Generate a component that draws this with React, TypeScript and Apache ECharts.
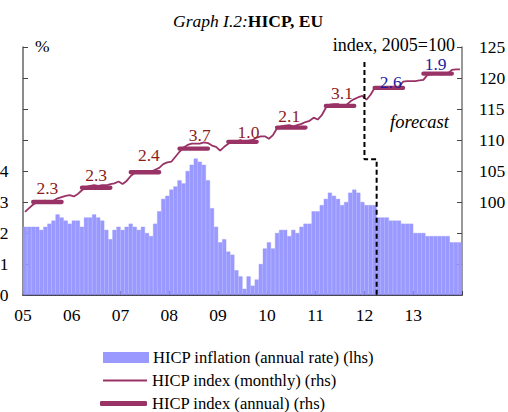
import React, { useEffect, useRef } from "react";
import * as echarts from "echarts";

const FONT = "'Liberation Serif', 'Times New Roman', serif";

// Year tick labels
const yearLabels = ["05", "06", "07", "08", "09", "10", "11", "12", "13"];

// HICP inflation, annual rate (%), monthly (2012 Q2 onwards = forecast)
const infl05 = [2.2, 2.2, 2.2, 2.2, 2.1, 2.2, 2.3, 2.4, 2.6, 2.5, 2.4, 2.3];
const infl06 = [2.4, 2.4, 2.2, 2.5, 2.5, 2.6, 2.5, 2.4, 2.1, 1.8, 2.1, 2.2];
const infl07 = [2.1, 2.2, 2.3, 2.2, 2.1, 2.2, 2.0, 1.9, 2.3, 2.7, 3.1, 3.2];
const infl08 = [3.4, 3.5, 3.7, 3.6, 4.0, 4.2, 4.4, 4.3, 4.2, 3.7, 2.8, 2.2];
const infl09 = [1.7, 1.8, 1.4, 1.3, 0.8, 0.6, 0.2, 0.6, 0.3, 0.5, 1.0, 1.5];
const infl10 = [1.7, 1.5, 2.0, 2.1, 2.1, 1.9, 2.1, 2.0, 2.2, 2.3, 2.3, 2.7];
const infl11 = [2.7, 2.9, 3.1, 3.3, 3.2, 3.1, 2.9, 3.0, 3.3, 3.4, 3.3, 3.0];
const infl12 = [2.9, 2.9, 2.9, 2.5, 2.5, 2.5, 2.4, 2.4, 2.4, 2.3, 2.3, 2.3];
const infl13 = [2.0, 2.0, 2.0, 1.9, 1.9, 1.9, 1.9, 1.9, 1.9, 1.7, 1.7, 1.7];

// HICP index (monthly), 2005 = 100
const idx05 = [98.4, 99.0, 99.6, 100.0, 100.1, 100.2, 100.0, 100.2, 100.6, 100.8, 101.0, 101.1];
const idx06 = [100.9, 101.3, 101.9, 102.4, 102.6, 102.7, 102.6, 102.7, 102.7, 102.9, 103.0, 103.3];
const idx07 = [102.9, 103.4, 104.2, 104.7, 104.9, 105.0, 104.8, 104.9, 105.2, 105.5, 106.1, 106.4];
const idx08 = [106.5, 107.3, 108.1, 108.8, 109.2, 109.4, 109.4, 109.4, 109.6, 109.5, 109.1, 108.9];
const idx09 = [108.3, 108.9, 109.4, 109.7, 109.8, 110.0, 109.6, 109.9, 110.0, 110.4, 110.6, 110.6];
const idx10 = [110.2, 110.8, 111.9, 112.2, 112.3, 112.4, 112.2, 112.4, 112.6, 112.9, 113.1, 113.6];
const idx11 = [113.3, 114.0, 115.2, 115.7, 115.8, 115.8, 115.4, 115.6, 116.2, 116.6, 116.9, 117.1];
const idx12 = [116.5, 117.3, 118.4, 118.4, 118.5, 118.4, 118.3, 118.4, 118.6, 119.4, 119.5, 119.5];
const idx13 = [119.5, 119.6, 119.7, 120.5, 120.6, 120.7, 120.6, 120.6, 120.7, 121.3, 121.4, 121.4];

// HICP index (annual averages) and annual rates shown above them
const annualIndex = [100.0, 102.3, 104.8, 108.6, 109.7, 112.0, 115.5, 118.4, 120.7];
const annualRates = ["2.3", "2.3", "2.4", "3.7", "1.0", "2.1", "3.1", "2.6", "1.9"];
const annualIsForecast = [false, false, false, false, false, false, false, true, true];

// Forecast break (dashed line), in years / index units
const breakX = [2012, 2012, 2012.25, 2012.25];
const breakY = [122.6, 106.9, 106.9, 85];

// Styling: small label nudges (px) to follow the original placement
const labelNudgeX = [0, 0, 4, 6, 6, -2, 2, 2, -2];
const labelNudgeY = [0, 1, -3, 0, 4, 2, 1.5, 8, 4];

const SERIES_BAR = "HICP inflation (annual rate) (lhs)";
const SERIES_M = "HICP index (monthly) (rhs)";
const SERIES_A = "HICP index (annual) (rhs)";

export default function App() {
  const ref = useRef<HTMLDivElement>(null);

  useEffect(() => {
    if (!ref.current) return;
    const chart = echarts.init(ref.current, null, { renderer: "svg" });

    const inflation = [
      ...infl05, ...infl06, ...infl07, ...infl08, ...infl09,
      ...infl10, ...infl11, ...infl12, ...infl13,
    ];
    const monthly = [
      ...idx05, ...idx06, ...idx07, ...idx08, ...idx09,
      ...idx10, ...idx11, ...idx12, ...idx13,
    ];
    const months = inflation.map((_, i) => `${yearLabels[Math.floor(i / 12)]}-${(i % 12) + 1}`);

    const annualData = months.map((_, i) => {
      const y = Math.floor(i / 12);
      const m = i % 12;
      if (m < 2 || m > 9) return null;
      if (m === 5) {
        return {
          value: annualIndex[y],
          label: {
            show: true,
            formatter: annualRates[y],
            position: "top",
            distance: 5,
            offset: [2 + labelNudgeX[y], labelNudgeY[y]],
            color: annualIsForecast[y] ? "#1c1c9c" : "#8e1b1b",
            fontFamily: FONT,
            fontSize: 17.5,
          },
        };
      }
      return annualIndex[y];
    });

    const textBase = { fontFamily: FONT, fontSize: 17.5, color: "#000", fontWeight: "normal" as const };
    const legendText = { ...textBase, fontSize: 16.6 };

    chart.setOption({
      animation: false,
      title: {
        text: "{i|Graph I.2:}{b|HICP, EU}",
        left: 168,
        top: 7,
        textStyle: {
          ...textBase,
          rich: {
            i: { ...textBase, fontStyle: "italic", fontWeight: "normal" },
            b: { ...textBase, fontWeight: "bold" },
          },
        },
      },
      grid: {
        left: 23,
        right: 46,
        top: 47,
        bottom: 117,
        containLabel: false,
        outerBoundsMode: "none",
      },
      legend: [
        {
          data: [{ name: SERIES_BAR, icon: "rect" }],
          left: 103,
          top: 349,
          padding: 0,
          itemWidth: 44,
          itemHeight: 9,
          textStyle: legendText,
          selectedMode: false,
        },
        {
          data: [{ name: SERIES_M, icon: "rect" }],
          left: 103,
          top: 372,
          padding: 0,
          itemWidth: 44,
          itemHeight: 2,
          textStyle: legendText,
          selectedMode: false,
        },
        {
          data: [{ name: SERIES_A, icon: "roundRect" }],
          left: 100,
          top: 395,
          padding: 0,
          itemWidth: 47,
          itemHeight: 5,
          textStyle: legendText,
          selectedMode: false,
        },
      ],
      xAxis: [
        {
          type: "category",
          data: months,
          show: false,
          boundaryGap: true,
        },
        {
          type: "value",
          min: 2005,
          max: 2014,
          interval: 1,
          position: "bottom",
          axisLine: { show: true, lineStyle: { color: "#000", width: 1.5 } },
          axisTick: { show: true, inside: true, length: 4, lineStyle: { color: "#333" } },
          axisLabel: {
            ...textBase,
            margin: 11,
            formatter: (v: number) => (v < 2014 ? yearLabels[v - 2005] : ""),
          },
          splitLine: { show: false },
        },
      ],
      yAxis: [
        {
          type: "value",
          min: 0,
          max: 8,
          interval: 1,
          position: "left",
          axisLine: { show: true, lineStyle: { color: "#666", width: 1.5 } },
          axisTick: { show: true, inside: true, length: 5, lineStyle: { color: "#444" } },
          axisLabel: {
            ...textBase,
            margin: 14.5,
            formatter: (v: number) => (v <= 4 ? String(v) : ""),
          },
          splitLine: { show: false },
        },
        {
          type: "value",
          min: 85,
          max: 125,
          interval: 5,
          position: "right",
          axisLine: { show: true, lineStyle: { color: "#777", width: 1.5 } },
          axisTick: { show: true, inside: true, length: 5, lineStyle: { color: "#444" } },
          axisLabel: {
            ...textBase,
            margin: 17,
            formatter: (v: number) => (v >= 100 ? String(v) : ""),
          },
          splitLine: { show: false },
        },
      ],
      series: [
        {
          name: SERIES_BAR,
          type: "bar",
          xAxisIndex: 0,
          yAxisIndex: 0,
          data: inflation,
          barCategoryGap: "0%",
          barGap: "0%",
          itemStyle: { color: "#9999ff", borderColor: "#9999ff", borderWidth: 0.4 },
          silent: true,
        },
        {
          name: SERIES_M,
          type: "line",
          xAxisIndex: 0,
          yAxisIndex: 1,
          data: monthly,
          symbol: "none",
          lineStyle: { color: "#993366", width: 1.8 },
          itemStyle: { color: "#993366" },
          silent: true,
        },
        {
          name: SERIES_A,
          type: "line",
          xAxisIndex: 0,
          yAxisIndex: 1,
          data: annualData,
          symbol: "circle",
          symbolSize: 0,
          showSymbol: true,
          connectNulls: false,
          lineStyle: { color: "#993366", width: 4.3, cap: "round" },
          itemStyle: { color: "#993366" },
          silent: true,
          z: 3,
        },
        {
          name: "forecast break",
          type: "line",
          xAxisIndex: 1,
          yAxisIndex: 1,
          data: breakX.map((x, i) => [x, breakY[i]]),
          symbol: "none",
          lineStyle: { color: "#000", width: 2, type: [5, 3] },
          silent: true,
          z: 5,
        },
      ],
      graphic: [
        {
          type: "text",
          left: 35,
          top: 37,
          style: { text: "%", font: `17.5px ${FONT}`, fill: "#000" },
        },
        {
          type: "text",
          right: 53,
          top: 36,
          style: { text: "index, 2005=100", font: `18px ${FONT}`, fill: "#000" },
        },
        {
          type: "text",
          left: 390,
          top: 112,
          style: { text: "forecast", font: `italic 18.5px ${FONT}`, fill: "#000" },
        },
      ],
    });

    return () => chart.dispose();
  }, []);

  return (
    <div
      ref={ref}
      style={{ position: "absolute", left: 0, top: 0, width: 508, height: 412 }}
    />
  );
}
